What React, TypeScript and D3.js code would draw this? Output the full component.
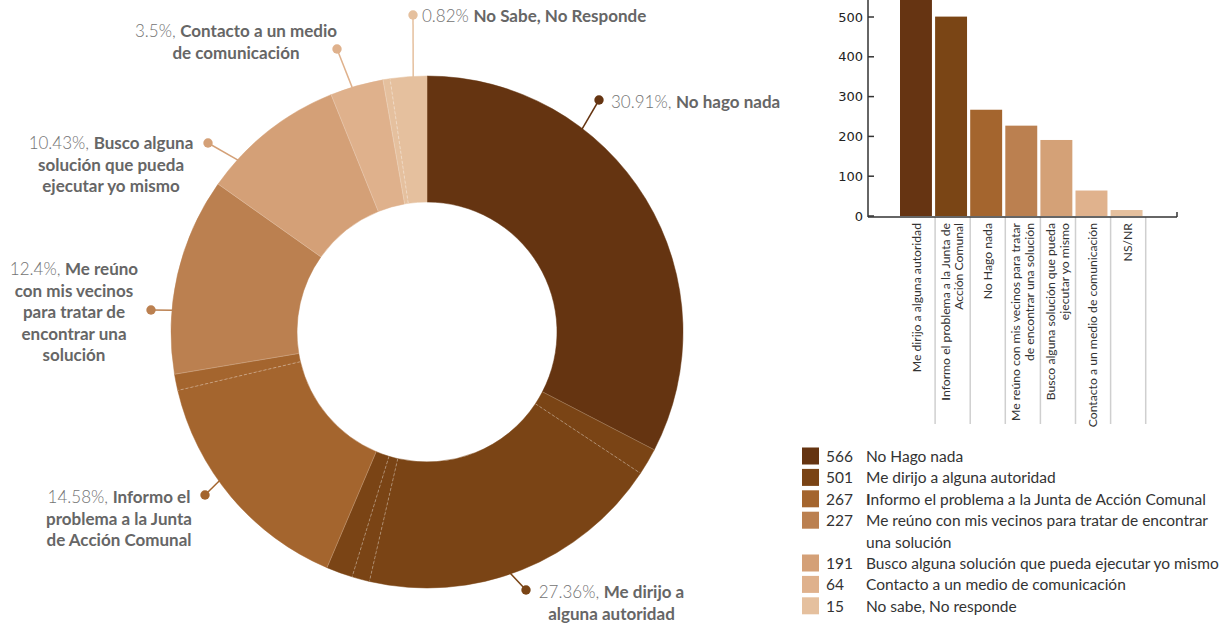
import React, { useEffect } from 'react';
import * as d3 from 'd3';

// ---------- DATA ----------
const counts = [566, 501, 267, 227, 191, 64, 15];
const colors = ['#653411', '#7a4415', '#a4652e', '#bb8050', '#d4a077', '#dfb18c', '#e5c09e'];

// donut labels (category text as shown next to the ring)
const donutLabelText = [
  ['No hago nada'],
  ['Me dirijo a', 'alguna autoridad'],
  ['Informo el', 'problema a la Junta', 'de Acción Comunal'],
  ['Me reúno', 'con mis vecinos', 'para tratar de', 'encontrar una', 'solución'],
  ['Busco alguna', 'solución que pueda', 'ejecutar yo mismo'],
  ['Contacto a un medio', 'de comunicación'],
  ['No Sabe, No Responde'],
];
const donutPctSep = [', ', ', ', ', ', ', ', ', ', ', ', ' '];

// ring segments as drawn (arc sizes in degrees) and their category
const ringSegmentCategory = [0, 1, 1, 1, 1, 2, 2, 3, 4, 5, 6, 6];
const ringSegmentDegrees = [117.4, 6.1, 69.5, 4, 6, 53.8, 3.7, 44.8, 32.7, 12.1, 1.6, 8.3];

// bar chart
const barCategories = [
  ['Me dirijo a alguna autoridad'],
  ['Informo el problema a la Junta de', 'Acción Comunal'],
  ['No Hago nada'],
  ['Me reúno con mis vecinos para tratar', 'de encontrar una solución'],
  ['Busco alguna solución que pueda', 'ejecutar yo mismo'],
  ['Contacto a un medio de comunicación'],
  ['NS/NR'],
];
const barValues = [566, 501, 267, 227, 191, 64, 15];
const barColors = ['#663412', '#7a4515', '#a4652e', '#bb8050', '#d4a177', '#e0b28d', '#e5c09e'];
const yTicks = [0, 100, 200, 300, 400, 500];

// legend
const legendValues = [566, 501, 267, 227, 191, 64, 15];
const legendLabels = [
  ['No Hago nada'],
  ['Me dirijo a alguna autoridad'],
  ['Informo el problema a la Junta de Acción Comunal'],
  ['Me reúno con mis vecinos para tratar de encontrar', 'una solución'],
  ['Busco alguna solución que pueda ejecutar yo mismo'],
  ['Contacto a un medio de comunicación'],
  ['No sabe, No responde'],
];

// ---------- LAYOUT ----------
const CX = 427, CY = 332, R_OUT = 256, R_IN = 130;
// connector: angle on ring (deg), dot position, text anchor/pos
const labelLayout = [
  { ang: 37.4, dot: [599, 100], tx: 611, ty: 101, anchor: 'start' },
  { ang: 161, dot: [526, 590], tx: 611.5, ty: 591, anchor: 'middle' },
  { ang: 234.4, dot: [205, 495], tx: 119, ty: 496, anchor: 'middle' },
  { ang: 274.9, dot: [151, 310], tx: 74, ty: 268, anchor: 'middle' },
  { ang: 312.3, dot: [208, 143], tx: 111, ty: 142, anchor: 'middle' },
  { ang: 343, dot: [337, 49], tx: 236, ty: 30, anchor: 'middle' },
  { ang: 356.9, dot: [413, 15], tx: 422, ty: 15, anchor: 'start' },
];
const LINE_H = 21.6;
const LABEL_FONT = 'Lato, "Noto Sans", sans-serif';

function boldI(s: string) {
  if (s.startsWith('Informo')) {
    return [<tspan key="b" fontWeight={700}>I</tspan>, <tspan key="r">{s.slice(1)}</tspan>];
  }
  return s;
}

export default function App() {
  useEffect(() => {
    document.body.style.margin = '0';
  }, []);

  const total = d3.sum(counts);
  const fmt = d3.format('.2~f');
  const rad = (d: number) => (d * Math.PI) / 180;

  // ring segments
  const segAngles: { start: number; end: number; cat: number }[] = [];
  let acc = 0;
  ringSegmentDegrees.forEach((deg, i) => {
    segAngles.push({ start: rad(acc), end: rad(acc + deg), cat: ringSegmentCategory[i] });
    acc += deg;
  });
  const arcGen = d3.arc<any>().innerRadius(R_IN).outerRadius(R_OUT);

  // bar chart scales
  const x = d3.scaleBand<number>().domain(d3.range(barValues.length)).range([900, 1145.7]).padding(0);
  const y = d3.scaleLinear().domain([0, 500]).range([216, 17]);
  const barW = x.bandwidth() * 0.91;
  const axisLeft = 868, axisRight = 1177, axisY = 217;

  return (
    <svg width={1232} height={626} style={{ position: 'absolute', left: 0, top: 0, display: 'block' }}>
      <rect width={1232} height={626} fill="#fff" />
      {/* donut */}
      <g transform={`translate(${CX},${CY})`}>
        {segAngles.map((s, i) => (
          <path key={i} d={arcGen({ startAngle: s.start, endAngle: s.end }) as string} fill={colors[s.cat]} stroke={colors[s.cat]} strokeWidth={0.5} />
        ))}
        {segAngles.map((s, i) =>
          i === 0 ? null : (
            <line
              key={'b' + i}
              x1={R_IN * Math.sin(s.start)}
              y1={-R_IN * Math.cos(s.start)}
              x2={R_OUT * Math.sin(s.start)}
              y2={-R_OUT * Math.cos(s.start)}
              stroke="#fff"
              strokeOpacity={segAngles[i - 1].cat === s.cat ? 0.45 : 0.25}
              strokeWidth={0.8}
              strokeDasharray={segAngles[i - 1].cat === s.cat ? '3,2' : undefined}
            />
          )
        )}
      </g>
      {/* connectors + labels */}
      {labelLayout.map((L, i) => {
        const a = rad(L.ang);
        const sx = CX + (R_OUT - 1) * Math.sin(a);
        const sy = CY - (R_OUT - 1) * Math.cos(a);
        const pct = fmt((counts[i] / total) * 100) + '%';
        const lines = donutLabelText[i];
        return (
          <g key={'l' + i}>
            <line x1={sx} y1={sy} x2={L.dot[0]} y2={L.dot[1]} stroke={colors[i]} strokeWidth={1.5} />
            <circle cx={L.dot[0]} cy={L.dot[1]} r={4.7} fill={colors[i]} />
            <text x={L.tx} y={L.ty} textAnchor={L.anchor as any} dominantBaseline="central" fontFamily={LABEL_FONT} fontSize={17}>
              {lines.map((ln, j) => (
                <tspan key={j} x={L.tx} y={L.ty + j * LINE_H}>
                  {j === 0 ? (
                    <>
                      <tspan fill="#737373" fontWeight={300}>{pct + donutPctSep[i]}</tspan>
                      <tspan fill="#666" fontWeight={700}>{ln}</tspan>
                    </>
                  ) : (
                    <tspan fill="#666" fontWeight={700}>{ln}</tspan>
                  )}
                </tspan>
              ))}
            </text>
          </g>
        );
      })}

      {/* bar chart */}
      <defs>
        <clipPath id="plotclip">
          <rect x={axisLeft} y={0} width={axisRight - axisLeft} height={axisY} />
        </clipPath>
      </defs>
      <g clipPath="url(#plotclip)">
        {barValues.map((v, i) => (
          <rect key={i} x={x(i)!} y={y(v)} width={barW} height={y(0) - y(v)} fill={barColors[i]} />
        ))}
      </g>
      {/* separators */}
      {barValues.map((_, i) => (
        <line key={'s' + i} x1={x(i)! + x.step()} x2={x(i)! + x.step()} y1={axisY} y2={424} stroke="#cfcfcf" strokeWidth={1.5} />
      ))}
      {/* axes */}
      <line x1={axisLeft} x2={axisLeft} y1={0} y2={axisY} stroke="#333" strokeWidth={1.5} />
      <line x1={axisLeft} x2={axisRight} y1={axisY} y2={axisY} stroke="#333" strokeWidth={1.5} />
      <line x1={axisRight} x2={axisRight} y1={axisY - 5} y2={axisY} stroke="#333" strokeWidth={1.5} />
      {yTicks.map((t) => (
        <g key={'t' + t}>
          <line x1={axisLeft} x2={axisLeft + 6} y1={y(t)} y2={y(t)} stroke="#333" strokeWidth={1.5} />
          <text x={863} y={y(t)} textAnchor="end" dominantBaseline="central" fontFamily='"DejaVu Sans", sans-serif' fontSize={13} fill="#222">
            {t}
          </text>
        </g>
      ))}
      {barCategories.map((lines, i) => {
        const cx = x(i)! + barW / 2 + 1;
        const n = lines.length;
        return (
          <text key={'c' + i} transform={`translate(${cx},223) rotate(-90)`} textAnchor="end" fontFamily={LABEL_FONT} fontSize={12.2} fill="#333">
            {lines.map((ln, j) => (
              <tspan key={j} x={0} y={(j - (n - 1) / 2) * 13.5} dominantBaseline="central">
                {boldI(ln)}
              </tspan>
            ))}
          </text>
        );
      })}

      {/* legend */}
      {(() => {
        let row = 0;
        return legendValues.map((v, i) => {
          const yc = 456 + row * 21.4;
          row += legendLabels[i].length;
          return (
            <g key={'lg' + i}>
              <rect x={802} y={yc - 8.5} width={17} height={17} fill={colors[i]} />
              <text x={826} y={yc} dominantBaseline="central" fontFamily={LABEL_FONT} fontSize={15.5} fill="#333">
                {v}
              </text>
              <text x={866} y={yc} dominantBaseline="central" fontFamily={LABEL_FONT} fontSize={15.5} fill="#333">
                {legendLabels[i].map((ln, j) => (
                  <tspan key={j} x={866} y={yc + j * 21.4}>
                    {boldI(ln)}
                  </tspan>
                ))}
              </text>
            </g>
          );
        });
      })()}
    </svg>
  );
}
